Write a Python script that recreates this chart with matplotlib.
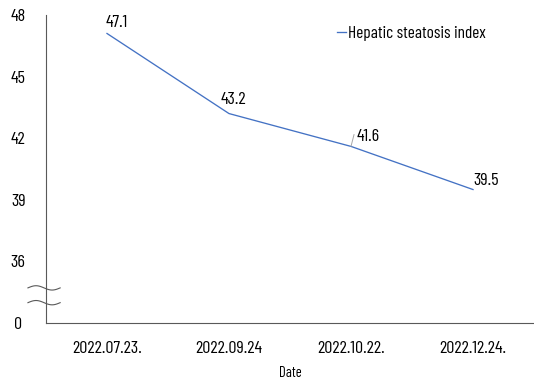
import numpy as np
import matplotlib
matplotlib.use('Agg')
import matplotlib.pyplot as plt

# data
dates = ['2022.07.23.', '2022.09.24', '2022.10.22.', '2022.12.24.']
hsi = [47.1, 43.2, 41.6, 39.5]
ytick_vals = [33, 36, 39, 42, 45, 48]
ytick_labels = ['0', '36', '39', '42', '45', '48']

plt.rcParams['font.family'] = ['Barlow Condensed', 'DejaVu Sans']

fig = plt.figure(figsize=(5.34, 3.84), dpi=100)
ax = fig.add_axes([46/534, 61/384, 1 - 46/534, (323-15)/384])

x = np.arange(len(dates))
ax.plot(x, hsi, color='#4472C4', linewidth=0.95, label='Hepatic steatosis index')

# value labels (offsets in points)
offsets = [(7.2, 8.2), (2.9, 10.0), (12.4, 7.4), (9.6, 6.8)]
for i, (v, off) in enumerate(zip(hsi, offsets)):
    ax.annotate(f'{v}', (x[i], v), xytext=off, textcoords='offset points',
                ha='center', va='center', fontsize=13)

# short leader line for the 41.6 label
ax.annotate('', (x[2], hsi[2]), xytext=(2.2, 8.6), textcoords='offset points',
            arrowprops=dict(arrowstyle='-', color='#A6A6A6', lw=0.7, shrinkA=0, shrinkB=0))

ax.set_xlim(-0.5, len(dates) - 0.5)
ax.set_ylim(33, 48)
ax.set_yticks(ytick_vals)
ax.set_yticklabels(ytick_labels, ha='center')
ax.set_xticks(x)
ax.set_xticklabels(dates)
ax.tick_params(axis='y', length=0, pad=20, labelsize=13)
ax.tick_params(axis='x', length=0, pad=13, labelsize=13)
ax.set_xlabel('Date', fontsize=10.5, labelpad=7)

for s in ['top', 'right']:
    ax.spines[s].set_visible(False)
for s in ['left', 'bottom']:
    ax.spines[s].set_color('#595959')
    ax.spines[s].set_linewidth(0.8)

# axis break marks
t = np.linspace(0, 1, 50)
wx = -0.037 + 0.066 * t
for y0 in [0.114, 0.066]:
    ax.plot(wx, y0 + 0.007 * np.sin(2 * np.pi * t), transform=ax.transAxes,
            color='#595959', lw=0.8, clip_on=False)

leg = ax.legend(loc='center left', bbox_to_anchor=(0.565, 0.94), frameon=False,
                fontsize=12.5, handlelength=0.5, handletextpad=0.1)

fig.savefig('out.png', dpi=100)
